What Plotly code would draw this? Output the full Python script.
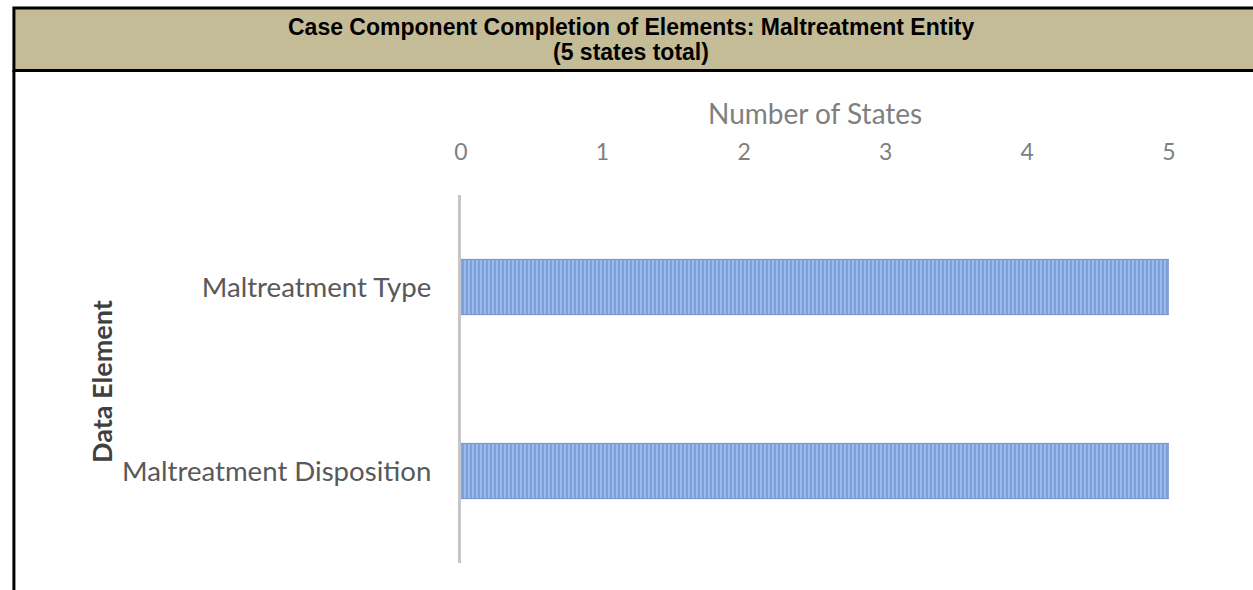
import plotly.graph_objects as go

# Chart data
categories = ["Maltreatment Type", "Maltreatment Disposition"]
states = [5, 5]
tick_values = [0, 1, 2, 3, 4, 5]
tick_labels = ["0", "1", "2", "3", "4", "5"]

title_line1 = "Case Component Completion of Elements: Maltreatment Entity"
title_line2 = "(5 states total)"
x_title = "Number of States"
y_title = "Data Element"

W, H = 1253, 590


def px_x(x):
    """Pixel x -> paper fraction."""
    return x / W


def px_y(y):
    """Pixel y (from top) -> paper fraction."""
    return 1 - y / H


fig = go.Figure()
fig.add_trace(go.Bar(
    y=categories,
    x=states,
    orientation="h",
    width=0.3,
    marker=dict(
        color="#9dbbeb",
        line=dict(color="#6f8fcb", width=1),
        pattern=dict(shape="|", fgcolor="#4a74bd", size=4, solidity=0.4),
    ),
    hoverinfo="x+y",
))

label_font = dict(family="Lato", color="#595959", size=27.6)

fig.update_layout(
    width=W,
    height=H,
    margin=dict(l=0, r=0, t=0, b=0),
    paper_bgcolor="white",
    plot_bgcolor="white",
    showlegend=False,
    bargap=0.7,
    xaxis=dict(
        domain=[px_x(459), px_x(1175)],
        range=[0, 5],
        side="top",
        anchor="free",
        position=px_y(165),
        tickvals=tick_values,
        ticktext=tick_labels,
        tickfont=dict(family="Lato", color="#7f7f7f", size=23),
        showgrid=False,
        zeroline=False,
        showline=False,
        ticks="",
        fixedrange=True,
    ),
    yaxis=dict(
        domain=[px_y(563), px_y(195)],
        type="category",
        categoryorder="array",
        categoryarray=categories[::-1],
        showline=True,
        linecolor="#c6c6c6",
        linewidth=3,
        ticks="",
        ticklabelstandoff=21,
        tickfont=label_font,
        showgrid=False,
        zeroline=False,
        fixedrange=True,
    ),
)

# Header band with border
fig.add_shape(
    type="rect", xref="paper", yref="paper",
    x0=px_x(7), x1=1.02, y0=px_y(70.5), y1=px_y(8),
    fillcolor="#c4bc97", line=dict(color="black", width=3), layer="below",
)
# Left frame line running down the page
fig.add_shape(
    type="line", xref="paper", yref="paper",
    x0=px_x(7), x1=px_x(7), y0=px_y(70), y1=-0.03,
    line=dict(color="black", width=3),
)

title_font = dict(family="Liberation Sans, Arial", size=23, color="black")
fig.add_annotation(
    xref="paper", yref="paper", x=px_x(631), y=px_y(27.5),
    xanchor="center", yanchor="middle",
    text="<b>" + title_line1 + "</b>", showarrow=False, font=title_font,
)
fig.add_annotation(
    xref="paper", yref="paper", x=px_x(631), y=px_y(52.5),
    xanchor="center", yanchor="middle",
    text="<b>" + title_line2 + "</b>", showarrow=False, font=title_font,
)
fig.add_annotation(
    xref="paper", yref="paper", x=px_x(817), y=px_y(113),
    xanchor="center", yanchor="middle",
    text=x_title, showarrow=False,
    font=dict(family="Lato", size=28, color="#7f7f7f"),
)
fig.add_annotation(
    xref="paper", yref="paper", x=px_x(95), y=px_y(381),
    xanchor="center", yanchor="middle",
    text="<b>" + y_title + "</b>", showarrow=False, textangle=-90,
    font=dict(family="Lato", size=27, color="#404040"),
)

fig.write_html("out.html")
